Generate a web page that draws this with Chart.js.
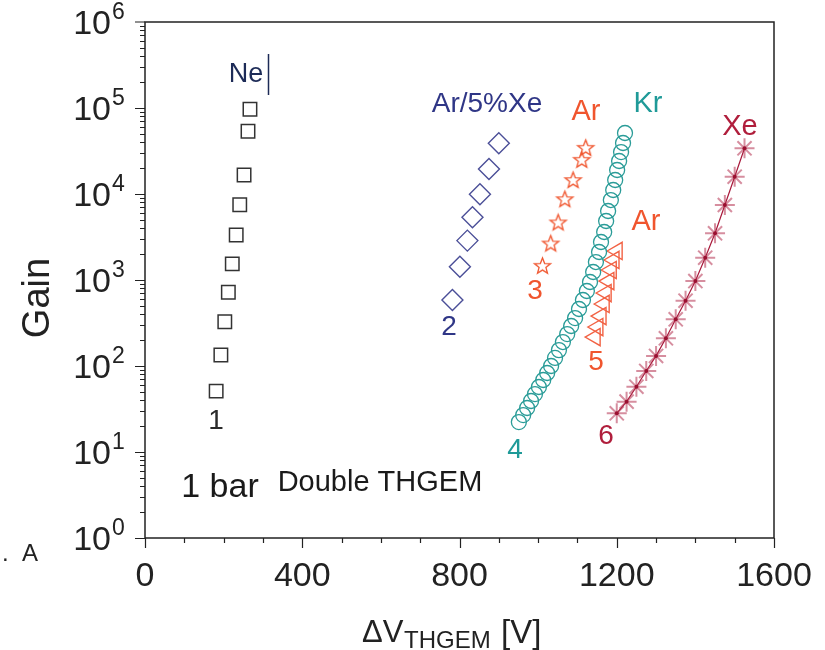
<!DOCTYPE html>
<html>
<head>
<meta charset="utf-8">
<script src="https://cdn.jsdelivr.net/npm/chart.js@4.4.0/dist/chart.umd.min.js"></script>
<style>
  body { margin: 0; background: #fff; }
  canvas { display: block; }
</style>
</head>
<body>
<canvas id="gainChart" width="825" height="650"></canvas>
<script>
// Gain vs. ΔV_THGEM, double THGEM at 1 bar

// 1: Ne
const neV = [181, 193, 203, 212, 222, 232, 241, 252, 262, 267];
const neGain = [51, 134, 327, 719, 1540, 3340, 7500, 16600, 53600, 96600];

// 2: Ar/5%Xe
const arXeV = [782, 801, 820, 833, 852, 875, 900];
const arXeGain = [585, 1430, 2870, 5360, 9930, 19500, 38900];

// 3: Ar (stars)
const arStarV = [1011, 1032, 1051, 1068, 1089, 1111, 1121];
const arStarGain = [1480, 2690, 4730, 8810, 14700, 25300, 34900];

// 4: Kr
const krV = [951, 962, 972, 982, 992, 1002, 1013, 1023, 1033, 1043, 1053, 1063, 1074, 1084, 1094,
             1104, 1114, 1124, 1132, 1140, 1147, 1155, 1160, 1168, 1173, 1178, 1185, 1191, 1196,
             1201, 1206, 1211, 1216, 1221];
const krGain = [22.3, 26.9, 32.5, 39.2, 47.2, 57, 68.7, 82.9, 100, 124, 153, 190, 235, 292, 361,
                460, 585, 745, 948, 1239, 1618, 2117, 2767, 3614, 4853, 6340, 8510, 11130, 14550,
                19010, 24200, 30760, 39170, 51170];

// 5: Ar (triangles)
const arTriV = [1145, 1152, 1160, 1168, 1173, 1180, 1186, 1193, 1201];
const arTriGain = [217, 284, 381, 526, 706, 973, 1307, 1709, 2174];

// 6: Xe
const xeV = [1200, 1225, 1250, 1275, 1300, 1325, 1350, 1375, 1400, 1425, 1450, 1475, 1500, 1525];
const xeGain = [28.2, 38.5, 57.4, 87.5, 131, 210, 349, 575, 973, 1817, 3493, 7450, 15900, 34000];

// axis ticks
const yMajor = [1, 10, 100, 1000, 10000, 100000, 1000000];
const yExp = ['0', '1', '2', '3', '4', '5', '6'];
const xMajor = [0, 400, 800, 1200, 1600];

const sans = "'Liberation Sans', Arial, sans-serif";

function toPoints(xs, ys) {
    return xs.map((v, i) => ({ x: v, y: ys[i] }));
}

// open five point star used for the Ar series
function makeStar(color, outer, inner) {
    const c = document.createElement('canvas');
    const s = Math.ceil(outer * 2 + 4);
    c.width = s; c.height = s;
    const g = c.getContext('2d');
    g.strokeStyle = color;
    g.lineWidth = 1.3;
    g.beginPath();
    for (let i = 0; i < 10; i++) {
        const r = i % 2 === 0 ? outer : inner;
        const a = -Math.PI / 2 + i * Math.PI / 5;
        const px = s / 2 + r * Math.cos(a);
        const py = s / 2 + 1 + r * Math.sin(a);
        if (i === 0) g.moveTo(px, py); else g.lineTo(px, py);
    }
    g.closePath();
    g.stroke();
    return c;
}

// text notes on the plot
const notes = [
    { text: 'Ne', x: 246, y: 75, color: '#1d2b57', size: 27 },
    { text: 'Ar/5%Xe', x: 487, y: 104, color: '#2f3686', size: 28 },
    { text: 'Ar', x: 586, y: 112, color: '#f0552e', size: 29 },
    { text: 'Kr', x: 648, y: 104, color: '#1f9a98', size: 29 },
    { text: 'Ar', x: 646, y: 222, color: '#f0552e', size: 29 },
    { text: 'Xe', x: 740, y: 127, color: '#b01e3c', size: 29 },
    { text: '1', x: 216, y: 421, color: '#2a2a2a', size: 28 },
    { text: '2', x: 449, y: 327, color: '#2f3686', size: 28 },
    { text: '3', x: 535, y: 291, color: '#f0552e', size: 28 },
    { text: '4', x: 515, y: 450, color: '#1f9a98', size: 28 },
    { text: '5', x: 596, y: 362, color: '#f0552e', size: 28 },
    { text: '6', x: 606, y: 436, color: '#b01e3c', size: 28 },
    { text: '1 bar', x: 220, y: 488, color: '#1a1a1a', size: 34 },
    { text: 'Double THGEM', x: 380, y: 483, color: '#1a1a1a', size: 29 }
];

const framePlugin = {
    id: 'frame',
    beforeDatasetsDraw(chart) {
        const { ctx, chartArea: a, scales: { x, y } } = chart;
        ctx.save();
        ctx.strokeStyle = '#222';
        ctx.lineWidth = 1.5;
        ctx.strokeRect(a.left, a.top, a.right - a.left, a.bottom - a.top);

        // tick marks, outside the box
        ctx.lineWidth = 1.2;
        ctx.beginPath();
        for (let d = 0; d < 6; d++) {
            for (let m = 1; m < 10; m++) {
                const py = Math.round(y.getPixelForValue(m * Math.pow(10, d))) + 0.5;
                ctx.moveTo(a.left, py);
                ctx.lineTo(a.left - (m === 1 ? 10 : 5), py);
            }
        }
        ctx.moveTo(a.left, a.top);
        ctx.lineTo(a.left - 10, a.top);
        for (let v = 0; v <= 1600; v += 100) {
            const px = Math.round(x.getPixelForValue(v)) + 0.5;
            ctx.moveTo(px, a.bottom);
            ctx.lineTo(px, a.bottom + (v % 400 === 0 ? 10 : 5));
        }
        ctx.stroke();

        // y tick labels 10^n
        ctx.fillStyle = '#222';
        yMajor.forEach((v, i) => {
            const py = y.getPixelForValue(v);
            ctx.font = '34px ' + sans;
            ctx.textAlign = 'right';
            ctx.textBaseline = 'middle';
            ctx.fillText('10', 111, py + 3);
            ctx.font = '23px ' + sans;
            ctx.textAlign = 'left';
            ctx.fillText(yExp[i], 112, py - 9);
        });

        // x tick labels
        ctx.font = '34px ' + sans;
        ctx.textAlign = 'center';
        ctx.textBaseline = 'top';
        xMajor.forEach(v => {
            ctx.fillText(String(v), x.getPixelForValue(v), 560);
        });

        // axis titles
        ctx.save();
        ctx.translate(39, 298);
        ctx.rotate(-Math.PI / 2);
        ctx.font = '38px ' + sans;
        ctx.textAlign = 'center';
        ctx.textBaseline = 'middle';
        ctx.fillText('Gain', 0, 0);
        ctx.restore();

        ctx.textAlign = 'left';
        ctx.textBaseline = 'alphabetic';
        ctx.font = '31px ' + sans;
        ctx.fillText('ΔV', 362, 642);
        ctx.font = '24px ' + sans;
        ctx.fillText('THGEM', 404, 648);
        ctx.font = '33px ' + sans;
        ctx.fillText('[V]', 501, 643);

        ctx.font = '24px ' + sans;
        ctx.fillText('.  A', 2, 561);

        // notes
        ctx.textAlign = 'center';
        ctx.textBaseline = 'middle';
        notes.forEach(n => {
            ctx.font = n.size + 'px ' + sans;
            ctx.fillStyle = n.color;
            ctx.fillText(n.text, n.x, n.y);
        });
        ctx.strokeStyle = '#1d2b57';
        ctx.lineWidth = 1.5;
        ctx.beginPath();
        ctx.moveTo(268.5, 54);
        ctx.lineTo(268.5, 95);
        ctx.stroke();
        ctx.restore();
    },
    afterDatasetsDraw(chart) {
        // dark centre dot on the Xe asterisks
        const { ctx } = chart;
        const meta = chart.getDatasetMeta(5);
        ctx.save();
        ctx.fillStyle = '#9a1030';
        meta.data.forEach(p => {
            ctx.beginPath();
            ctx.arc(p.x, p.y, 2, 0, Math.PI * 2);
            ctx.fill();
        });
        ctx.restore();
    }
};

const ctx = document.getElementById('gainChart').getContext('2d');
const gainChart = new Chart(ctx, {
    type: 'scatter',
    data: {
        datasets: [
            {
                label: 'Ne',
                data: toPoints(neV, neGain),
                pointStyle: 'rect',
                pointRadius: 9.5,
                borderColor: '#333',
                backgroundColor: 'rgba(0,0,0,0)',
                borderWidth: 1.5
            },
            {
                label: 'Ar/5%Xe',
                data: toPoints(arXeV, arXeGain),
                pointStyle: 'rectRot',
                pointRadius: 10.5,
                borderColor: '#4b4f98',
                backgroundColor: 'rgba(0,0,0,0)',
                borderWidth: 1.4
            },
            {
                label: 'Ar',
                data: toPoints(arStarV, arStarGain),
                pointStyle: makeStar('#f0552e', 8.5, 3.6),
                borderColor: '#f0552e',
                backgroundColor: 'rgba(0,0,0,0)'
            },
            {
                label: 'Kr',
                data: toPoints(krV, krGain),
                pointStyle: 'circle',
                pointRadius: 7.5,
                borderColor: '#2a9c98',
                backgroundColor: 'rgba(0,0,0,0)',
                borderWidth: 1.3
            },
            {
                label: 'Ar',
                data: toPoints(arTriV, arTriGain),
                pointStyle: 'triangle',
                pointRotation: -90,
                pointRadius: 10,
                borderColor: '#f26244',
                backgroundColor: 'rgba(0,0,0,0)',
                borderWidth: 1.4
            },
            {
                label: 'Xe',
                data: toPoints(xeV, xeGain),
                showLine: true,
                pointStyle: 'star',
                pointRadius: 10,
                borderColor: '#a8183a',
                pointBorderColor: 'rgba(180, 50, 80, 0.55)',
                backgroundColor: 'rgba(0,0,0,0)',
                pointBorderWidth: 2,
                borderWidth: 1.2
            }
        ]
    },
    options: {
        responsive: false,
        animation: false,
        devicePixelRatio: 1,
        layout: { padding: { left: 145, right: 51, top: 22, bottom: 112 } },
        plugins: {
            legend: { display: false },
            tooltip: { enabled: false }
        },
        scales: {
            x: { type: 'linear', min: 0, max: 1600, display: false },
            y: { type: 'logarithmic', min: 1, max: 1000000, display: false }
        }
    },
    plugins: [framePlugin]
});
</script>
</body>
</html>
